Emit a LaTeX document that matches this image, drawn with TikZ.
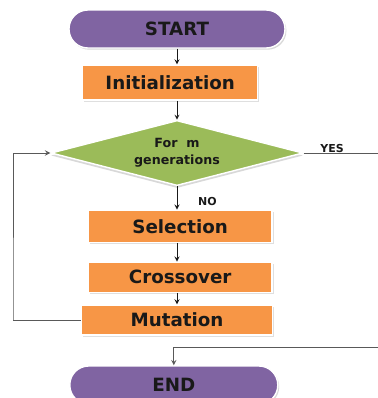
\documentclass[tikz,border=0pt]{standalone}
\usepackage{fontspec}
\setmainfont{DejaVu Sans}
\usepackage{tikz}
\usetikzlibrary{shapes.geometric, arrows}
\usetikzlibrary{shadows}
\usetikzlibrary{positioning,calc}

\definecolor{termPurple}{HTML}{8064A2}
\definecolor{stepOrange}{HTML}{F79646}
\definecolor{loopGreen}{HTML}{9BBB59}

\begin{document}
\begin{tikzpicture}[node distance=1.3cm]
	%defines
	\tikzstyle{terminal} = [rectangle, rounded corners=0.47cm, minimum width=5.4cm, minimum height=0.95cm, text centered, fill=termPurple, draw=white, line width=1pt, drop shadow={shadow xshift=1pt, shadow yshift=-1.2pt, fill=black!30}, font=\bfseries\fontsize{13}{16}\selectfont, text=black!90]
	\tikzstyle{process} = [rectangle, minimum width=4.6cm, minimum height=0.8cm, text centered, fill=stepOrange, draw=white, line width=1pt, drop shadow={shadow xshift=1pt, shadow yshift=-1.2pt, fill=black!25}, font=\bfseries\fontsize{13}{16}\selectfont, text=black!90]
	\tikzstyle{decision} = [diamond, aspect=3.9, minimum width=6.3cm, minimum height=1.63cm, inner sep=0pt, text centered, align=center, fill=loopGreen, draw=white, line width=1pt, drop shadow={shadow xshift=0pt, shadow yshift=-1.8pt, fill=black!30}, font=\bfseries\fontsize{9}{12}\selectfont, text=black!90]
	\tikzstyle{answer} = [font=\bfseries\fontsize{7.8}{9}\selectfont, text=black!90, inner sep=0pt]
	\tikzstyle{arrow} = [->,>=stealth, black!90, line width=0.6pt]
	\tikzstyle{loopline} = [->,>=stealth, black!65, line width=0.7pt]
	\useasboundingbox (0,0) rectangle (9.425,-9.95);
	%chart
	\node (start) [terminal] at (4.425,-0.725) {START};
	\node (init) [process, minimum width=4.375cm, minimum height=0.875cm, below of=start, node distance=1.34cm, xshift=-0.17cm] {Initialization};
	\node (loop) [decision, below of=start, node distance=3.1cm] {For\ \ m\\generations};
	\node (select) [process, below of=loop, node distance=1.83cm, xshift=0.08cm] {Selection};
	\node (cross) [process, minimum height=0.75cm, below of=select, node distance=1.275cm] {Crossover};
	\node (mutate) [process, minimum width=4.775cm, minimum height=0.75cm, below of=loop, node distance=4.175cm] {Mutation};
	\node (end) [terminal, minimum width=5.2cm, below of=mutate, node distance=1.625cm, xshift=-0.08cm] {END};
	\node (yes) [answer, right of=loop, node distance=3.875cm, yshift=0.12cm] {YES};
	\node (no) [answer, below of=loop, node distance=1.225cm, xshift=0.76cm] {NO};
	\coordinate (loopback) at (0.325,-8);
	\coordinate (yesturn) at (9.6,-8.675);
	\draw [arrow] (start.south) -- (start.south |- init.north);
	\draw [arrow] (start.south |- init.south) -- (loop.north);
	\draw [arrow] (loop.south) -- (loop.south |- select.north);
	\draw [arrow] (loop.south |- select.south) -- (loop.south |- cross.north);
	\draw [arrow] (loop.south |- cross.south) -- (mutate.north);
	\draw [loopline] (mutate.west) -| (loopback) |- (loop.west);
	\draw [loopline] (loop.east) -| (yesturn) -| (end.north);
\end{tikzpicture}
\end{document}
